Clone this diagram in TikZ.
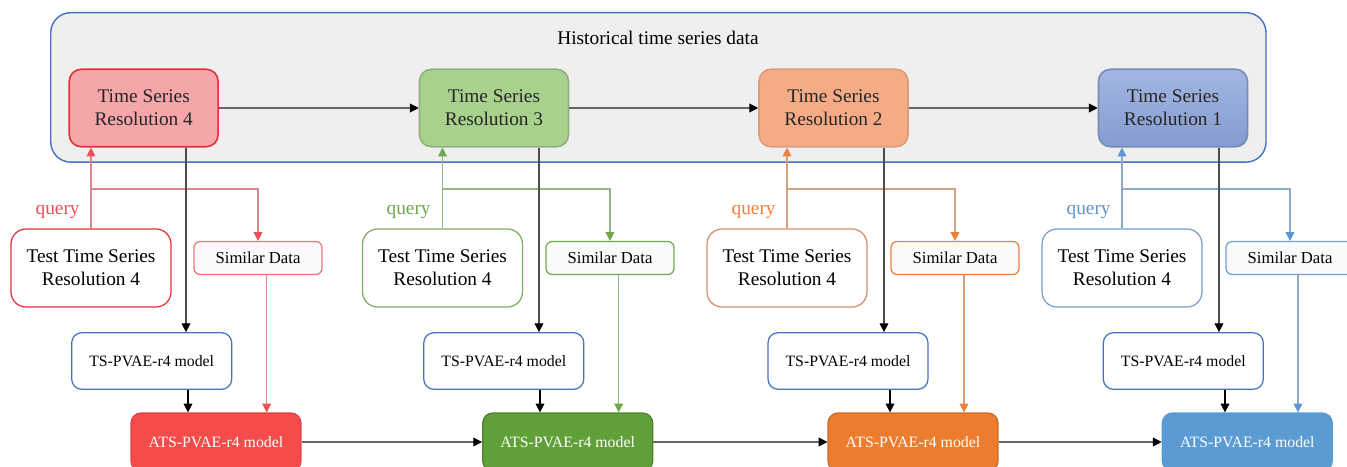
\documentclass[tikz,border=0pt]{standalone}
\usepackage{fontspec}
\setmainfont{Liberation Serif}
\usepackage{tikz}
\usepackage{xcolor}
\usetikzlibrary{arrows.meta}

\definecolor{histblue}{RGB}{68,114,196}
\definecolor{histgray}{RGB}{239,239,239}
\definecolor{rfill}{RGB}{244,166,168}
\definecolor{rdraw}{RGB}{228,48,58}
\definecolor{rtip}{RGB}{236,80,88}
\definecolor{rats}{RGB}{245,75,75}
\definecolor{gfill}{RGB}{169,209,142}
\definecolor{gdraw}{RGB}{128,172,98}
\definecolor{gtip}{RGB}{112,168,78}
\definecolor{gats}{RGB}{96,160,56}
\definecolor{ofill}{RGB}{245,172,134}
\definecolor{odraw}{RGB}{212,140,108}
\definecolor{otip}{RGB}{234,128,62}
\definecolor{oats}{RGB}{236,125,46}
\definecolor{bfill}{RGB}{140,164,218}
\definecolor{bdraw}{RGB}{120,155,205}
\definecolor{btip}{RGB}{96,150,208}
\definecolor{bats}{RGB}{90,155,212}

\tikzset{
  tsbox/.style={draw, line width=0.9pt, rounded corners=0.24cm, minimum width=2.98cm,
    minimum height=1.55cm, align=center, text=black!85, font=\fontsize{11}{13}\selectfont},
  testbox/.style={draw, fill=white, line width=0.7pt, rounded corners=0.3cm, minimum width=3.2cm,
    minimum height=1.56cm, align=center, font=\fontsize{11}{13}\selectfont},
  simbox/.style={draw, fill=black!2, line width=0.7pt, rounded corners=0.12cm, minimum width=2.56cm,
    minimum height=0.66cm, font=\fontsize{9.5}{11}\selectfont},
  pvbox/.style={draw=histblue, fill=white, line width=0.7pt, rounded corners=0.2cm, minimum width=3.2cm,
    minimum height=1.13cm, font=\fontsize{9}{11}\selectfont},
  atsbox/.style={draw, line width=0.7pt, rounded corners=0.2cm, minimum width=3.4cm,
    minimum height=1.16cm, text=white, font=\fontsize{9}{11}\selectfont},
  bline/.style={draw=black!70, line width=0.6pt, -{Triangle[length=5pt,width=5pt,color=black]}},
  qline/.style={draw=#1!50!lightgray, line width=0.6pt, -{Triangle[length=5pt,width=5pt,color=#1]}},
  qtext/.style={anchor=east, inner sep=0pt, text=#1, font=\fontsize{11}{13}\selectfont}
}

\begin{document}
\begin{tikzpicture}[x=0.02cm, y=-0.02cm]
\useasboundingbox (0,0) rectangle (1347,467);

% historical data
\node [draw=histblue, fill=histgray, line width=0.8pt, rounded corners=0.4cm,
  minimum width=24.31cm, minimum height=2.99cm] (hist) at (658.4,87.4) {};
\node [font=\fontsize{11}{13}\selectfont] (histtitle) at (658,38) {Historical time series data};

\node [tsbox, fill=rfill, draw=rdraw] (ts4) at (143.7,108) {Time Series\\Resolution 4};
\node [tsbox, fill=gfill, draw=gfill!85!black] (ts3) at (494,108) {Time Series\\Resolution 3};
\node [tsbox, fill=ofill, draw=ofill!90!black] (ts2) at (833.5,108) {Time Series\\Resolution 2};
\node [tsbox, top color=bfill!80!white, bottom color=bfill!95!black, draw=bfill!85!black] (ts1) at (1173,108) {Time Series\\Resolution 1};

\draw [bline, draw=black!60] (ts4.east) -- (ts3.west);
\draw [bline, draw=black!60] (ts3.east) -- (ts2.west);
\draw [bline, draw=black!60] (ts2.east) -- (ts1.west);

% query and similar data
\node [testbox, draw=rdraw] (test4) at (91,268) {Test Time Series\\Resolution 4};
\node [testbox, draw=gdraw] (test3) at (442.5,268) {Test Time Series\\Resolution 4};
\node [testbox, draw=odraw] (test2) at (787,268) {Test Time Series\\Resolution 4};
\node [testbox, draw=bdraw] (test1) at (1122,268) {Test Time Series\\Resolution 4};

\node [simbox, draw=rtip!80!white] (sim4) at (258,258) {Similar Data};
\node [simbox, draw=gtip] (sim3) at (610,258) {Similar Data};
\node [simbox, draw=otip] (sim2) at (955,258) {Similar Data};
\node [simbox, draw=btip!90!white] (sim1) at (1290,258) {Similar Data};

\node [qtext=rtip] (q4) at (80,212) {query};
\node [qtext=gtip] (q3) at (431,212) {query};
\node [qtext=otip] (q2) at (776,212) {query};
\node [qtext=btip] (q1) at (1111,212) {query};

\coordinate (br) at (0,189);
\draw [qline=rtip] (test4.north) -- (test4.north |- ts4.south);
\draw [qline=rtip] (test4.north |- br) -| (sim4.north);
\draw [qline=gtip] (test3.north) -- (test3.north |- ts3.south);
\draw [qline=gtip] (test3.north |- br) -| (sim3.north);
\draw [qline=otip] (test2.north) -- (test2.north |- ts2.south);
\draw [qline=otip] (test2.north |- br) -| (sim2.north);
\draw [qline=btip] (test1.north) -- (test1.north |- ts1.south);
\draw [qline=btip] (test1.north |- br) -| (sim1.north);

% models
\node [pvbox] (pv4) at (151.7,361) {TS-PVAE-r4 model};
\node [pvbox] (pv3) at (503.8,361) {TS-PVAE-r4 model};
\node [pvbox] (pv2) at (848,361) {TS-PVAE-r4 model};
\node [pvbox] (pv1) at (1183.3,361) {TS-PVAE-r4 model};

\node [atsbox, fill=rats, draw=rats!90!black] (ats4) at (216,442) {ATS-PVAE-r4 model};
\node [atsbox, fill=gats, draw=gats!80!black] (ats3) at (567.7,442) {ATS-PVAE-r4 model};
\node [atsbox, fill=oats, draw=oats!85!black] (ats2) at (913,442) {ATS-PVAE-r4 model};
\node [atsbox, fill=bats, draw=bats] (ats1) at (1247.3,442) {ATS-PVAE-r4 model};

\coordinate (d4) at (186,0);
\coordinate (d3) at (539,0);
\coordinate (d2) at (884,0);
\coordinate (d1) at (1219,0);
\draw [bline] (ts4.south -| d4) -- (pv4.north -| d4);
\draw [bline] (ts3.south -| d3) -- (pv3.north -| d3);
\draw [bline] (ts2.south -| d2) -- (pv2.north -| d2);
\draw [bline] (ts1.south -| d1) -- (pv1.north -| d1);

\coordinate (e4) at (188,0);
\coordinate (e3) at (540,0);
\coordinate (e2) at (890,0);
\coordinate (e1) at (1225,0);
\draw [bline, draw=black] (pv4.south -| e4) -- (ats4.north -| e4);
\draw [bline, draw=black] (pv3.south -| e3) -- (ats3.north -| e3);
\draw [bline, draw=black] (pv2.south -| e2) -- (ats2.north -| e2);
\draw [bline, draw=black] (pv1.south -| e1) -- (ats1.north -| e1);

\coordinate (s4) at (266.7,0);
\coordinate (s3) at (618.7,0);
\coordinate (s2) at (964,0);
\coordinate (s1) at (1298,0);
\draw [qline=rtip] (sim4.south -| s4) -- (ats4.north -| s4);
\draw [qline=gtip] (sim3.south -| s3) -- (ats3.north -| s3);
\draw [qline=otip] (sim2.south -| s2) -- (ats2.north -| s2);
\draw [qline=btip] (sim1.south -| s1) -- (ats1.north -| s1);

\draw [bline, draw=black!60] (ats4.east) -- (ats3.west);
\draw [bline, draw=black!60] (ats3.east) -- (ats2.west);
\draw [bline, draw=black!60] (ats2.east) -- (ats1.west);
\end{tikzpicture}
\end{document}
